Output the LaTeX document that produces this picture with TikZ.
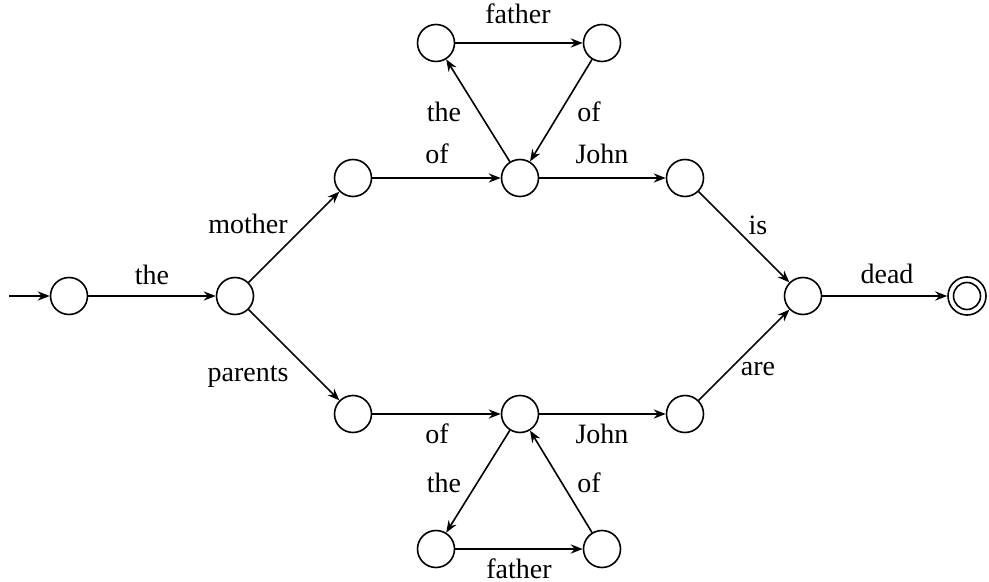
\documentclass[tikz,border=0pt]{standalone}
\usepackage{fontspec}
\setmainfont{Liberation Serif}
\usetikzlibrary{arrows.meta}
\begin{document}
\begin{tikzpicture}[x=0.5pt,y=-0.5pt,
 state/.style={circle,draw,line width=0.8pt,minimum size=18.5pt,inner sep=0pt},
 lbl/.style={inner sep=0pt,text height=9.5pt,text depth=0pt,font=\fontsize{14}{16}\selectfont},
 arr/.style={line width=0.8pt,-{Stealth[length=6pt,width=4.6pt,inset=2pt]}}]
\useasboundingbox (0,0) rectangle (989,582);
% states
\node[state] (q0) at (69,296) {};
\node[state] (q1) at (235,296) {};
\node[state] (q2) at (353,178) {};
\node[state] (q3) at (520,178) {};
\node[state] (q4) at (436,43) {};
\node[state] (q5) at (602,43) {};
\node[state] (q6) at (685,178) {};
\node[state] (q7) at (803,296) {};
\node[state,minimum size=19pt] (q8) at (967,296) {};
\draw[line width=0.8pt] (q8.center) circle (13.5);
\node[state] (q9) at (353,414) {};
\node[state] (q10) at (520,414) {};
\node[state] (q11) at (685,414) {};
\node[state] (q12) at (436,549) {};
\node[state] (q13) at (602,549) {};
% connectors
\coordinate (s) at (9,296);
\draw[arr] (s) -- (q0);
\draw[arr] (q0) -- (q1);
\draw[arr] (q1) -- (q2);
\draw[arr] (q1) -- (q9);
\draw[arr] (q2) -- (q3);
\draw[arr] (q3) -- (q4);
\draw[arr] (q4) -- (q5);
\draw[arr] (q5) -- (q3);
\draw[arr] (q3) -- (q6);
\draw[arr] (q6) -- (q7);
\draw[arr] (q7) -- (q8);
\draw[arr] (q9) -- (q10);
\draw[arr] (q10) -- (q12);
\draw[arr] (q12) -- (q13);
\draw[arr] (q13) -- (q10);
\draw[arr] (q10) -- (q11);
\draw[arr] (q11) -- (q7);
% labels
\node[lbl] (l1) at (152,275) {the};
\node[lbl] (l2) at (248,224) {mother};
\node[lbl] (l3) at (248,372) {parents};
\node[lbl] (l4) at (437,154) {of};
\node[lbl] (l5) at (602,154) {John};
\node[lbl] (l6) at (444,112) {the};
\node[lbl] (l7) at (589,112) {of};
\node[lbl] (l8) at (518,14) {father};
\node[lbl] (l9) at (758,225) {is};
\node[lbl] (l10) at (758,366) {are};
\node[lbl] (l11) at (887,274) {dead};
\node[lbl] (l12) at (437,434) {of};
\node[lbl] (l13) at (602,434) {John};
\node[lbl] (l14) at (444,483) {the};
\node[lbl] (l15) at (589,483) {of};
\node[lbl] (l16) at (519,569) {father};
\end{tikzpicture}
\end{document}
